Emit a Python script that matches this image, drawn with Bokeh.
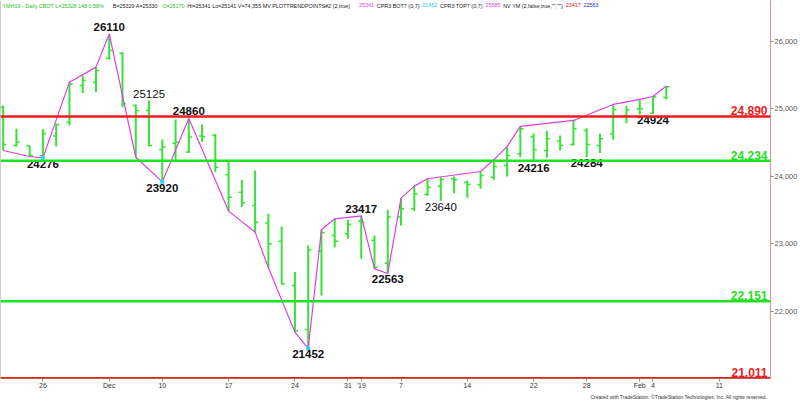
from bokeh.plotting import figure
from bokeh.models import (Range1d, FixedTicker, NumeralTickFormatter, Label, Span,
                          ColumnDataSource, Title)
from bokeh.core.properties import value
from bokeh.embed import file_html
from bokeh.resources import INLINE

# ---------------- data ----------------
dates = ["2018-11-20", "2018-11-21", "2018-11-23", "2018-11-26", "2018-11-27", "2018-11-28",
         "2018-11-29", "2018-11-30", "2018-12-03", "2018-12-04", "2018-12-06", "2018-12-07",
         "2018-12-10", "2018-12-11", "2018-12-12", "2018-12-13", "2018-12-14", "2018-12-17",
         "2018-12-18", "2018-12-19", "2018-12-20", "2018-12-21", "2018-12-24", "2018-12-26",
         "2018-12-27", "2018-12-28", "2018-12-31", "2019-01-02", "2019-01-03", "2019-01-04",
         "2019-01-07", "2019-01-08", "2019-01-09", "2019-01-10", "2019-01-11", "2019-01-14",
         "2019-01-15", "2019-01-16", "2019-01-17", "2019-01-18", "2019-01-22", "2019-01-23",
         "2019-01-24", "2019-01-25", "2019-01-28", "2019-01-29", "2019-01-30", "2019-01-31",
         "2019-02-01", "2019-02-04", "2019-02-05"]
future_dates = ["2019-02-06", "2019-02-07", "2019-02-08", "2019-02-11"]

opens = [25030, 24459, 24454, 24310, 24600, 24805, 25348, 25397, 25753, 25827, 25052, 24978,
         24395, 24494, 24361, 24600, 24607, 24025, 23768, 23570, 23309, 23042, 22385, 21733,
         22894, 23126, 23151, 23340, 23052, 22716, 23398, 23521, 23733, 23857, 23966, 23916,
         23877, 23990, 24163, 24336, 24583, 24385, 24524, 24474, 24681, 24459, 24632, 24904,
         25003, 24938, 25170]
highs = [25052, 24706, 24454, 24701, 24780, 25397, 25496, 25620, 26110, 25842, 25067, 25125,
         24548, 24844, 24860, 24770, 24632, 24227, 23951, 24089, 23447, 23259, 22583, 22978,
         23210, 23373, 23358, 23417, 23126, 23506, 23679, 23857, 23966, 23990, 24000, 23941,
         24074, 24247, 24445, 24741, 24642, 24672, 24607, 24830, 24716, 24632, 25067, 25052,
         25141, 25185, 25341]
lows = [24385, 24445, 24296, 24276, 24445, 24756, 25235, 25250, 25728, 25027, 24285, 24445,
        23920, 24247, 24346, 24509, 24064, 23487, 23546, 23175, 22647, 22400, 21694, 21452,
        22237, 22953, 23077, 22780, 22632, 22563, 23274, 23487, 23709, 23640, 23753, 23684,
        23817, 23951, 24000, 24286, 24216, 24277, 24385, 24459, 24284, 24346, 24543, 24790,
        24919, 24924, 25141]
closes = [24474, 24509, 24311, 24632, 24770, 25373, 25422, 25570, 25867, 25077, 24978, 24459,
          24435, 24509, 24583, 24590, 24138, 23694, 23610, 23323, 23003, 22410, 21709, 22914,
          23166, 23042, 23289, 23320, 22657, 23398, 23521, 23743, 23842, 23956, 23951, 23882,
          24015, 24148, 24311, 24706, 24395, 24558, 24459, 24706, 24474, 24558, 24988, 24988,
          25003, 25180, 25328]

# swing line (PLOTTRENDPOINTS): date + which extreme
trend_dates = ["2018-11-20", "2018-11-23", "2018-11-26", "2018-11-28", "2018-11-30", "2018-12-03",
               "2018-12-06", "2018-12-10", "2018-12-12", "2018-12-17", "2018-12-19", "2018-12-20",
               "2018-12-24", "2018-12-26", "2018-12-27", "2018-12-28", "2019-01-02", "2019-01-03",
               "2019-01-04", "2019-01-07", "2019-01-08", "2019-01-09", "2019-01-15", "2019-01-16",
               "2019-01-17", "2019-01-18", "2019-01-25", "2019-01-30", "2019-02-01", "2019-02-04",
               "2019-02-05"]
trend_side = ["L", "L", "L", "H", "H", "H", "L", "L", "H", "L", "L", "L", "L", "L", "H", "H",
              "H", "L", "L", "H", "H", "H", "H", "H", "H", "H", "H", "H", "H", "H", "H"]

# labelled pivots
pivot_dates = ["2018-11-26", "2018-12-03", "2018-12-07", "2018-12-10", "2018-12-12", "2018-12-26",
               "2019-01-02", "2019-01-04", "2019-01-10", "2019-01-22", "2019-01-28", "2019-02-04"]
pivot_side = ["L", "H", "H", "L", "H", "L", "H", "L", "L", "L", "L", "L"]
pivot_bold = [True, True, False, True, True, True, True, True, False, True, True, True]
dot_dates = ["2018-11-26", "2018-12-10", "2018-12-26"]

levels = [24890, 24234, 22151, 21011]
level_colors = ["#ee1c1c", "#22e022", "#22e022", "#ee1c1c"]

y_ticks = [22000, 23000, 24000, 25000, 26000]
tick_dates = ["2018-11-26", "2018-12-03", "2018-12-10", "2018-12-17", "2018-12-24", "2018-12-31",
              "2019-01-02", "2019-01-07", "2019-01-14", "2019-01-22", "2019-01-28", "2019-02-01",
              "2019-02-04", "2019-02-11"]
tick_labels = ["26", "Dec", "10", "17", "24", "31", "'19", "7", "14", "22", "28", "Feb", "4", "11"]

ask_price = 25330
header = [("YMH19 - Daily  CBOT  L=25328  148  0.58%", "#22c422"),
          ("B=25329  A=25330", "#222222"),
          ("O=25170", "#22c422"),
          ("Hi=25341  Lo=25141  V=74,355  MV  PLOTTRENDPOINTS#2 (2,true)", "#222222"),
          ("25341", "#e040e0"),
          ("CPR3 BOT7 (0,7)", "#222222"),
          ("21452", "#22ccee"),
          ("CPR3 TOP7 (0,7)", "#222222"),
          ("25585", "#e040e0"),
          ('NV YM (2,false,true,"","")', "#222222"),
          ("23417", "#e02020"),
          ("22563", "#2233ee")]

# ---------------- figure ----------------
calendar = dates + future_dates
pos = {d: i for i, d in enumerate(calendar)}
X0, X1 = -0.2, 57.86
Y0, Y1 = 21007, 26607

p = figure(width=800, height=402, output_backend="svg", toolbar_location=None,
           x_range=Range1d(X0, X1), y_range=Range1d(Y0, Y1), y_axis_location="right",
           min_border_left=0, min_border_top=0, min_border_right=0, min_border_bottom=24,
           background_fill_color="white", border_fill_color="white")
p.xgrid.visible = False
p.ygrid.visible = False
p.outline_line_color = None

FONT = "Liberation Sans"

# axes
p.yaxis.ticker = FixedTicker(ticks=y_ticks)
p.yaxis.formatter = NumeralTickFormatter(format="0,0")
p.yaxis.major_label_text_font = FONT
p.yaxis.major_label_text_font_size = "7.5px"
p.yaxis.major_label_text_color = "#555555"
p.yaxis.axis_line_color = "#e09090"
p.yaxis.major_tick_line_color = "#888888"
p.yaxis.major_tick_in = 0
p.yaxis.major_tick_out = 3
p.yaxis.minor_tick_line_color = None
p.yaxis.major_label_standoff = 1

p.xaxis.ticker = FixedTicker(ticks=[pos[d] for d in tick_dates])
p.xaxis.major_label_overrides = {pos[d]: lab for d, lab in zip(tick_dates, tick_labels)}
p.xaxis.major_label_text_font = FONT
p.xaxis.major_label_text_font_size = "7px"
p.xaxis.major_label_text_color = "#333333"
p.xaxis.axis_line_color = "#999999"
p.xaxis.major_tick_line_color = "#999999"
p.xaxis.major_tick_in = 0
p.xaxis.major_tick_out = 3
p.xaxis.minor_tick_line_color = None
p.xaxis.major_label_standoff = 0

p.add_layout(Title(text="Created with TradeStation. \u00a9TradeStation Technologies, Inc. All rights reserved.",
                   align="right", text_font_size="5px", text_font_style="normal", text_font=FONT,
                   text_color="#333333", standoff=0, offset=3), "below")

# left border
p.add_layout(Span(location=X0, dimension="height", line_color="#a0a0a0", line_width=1))

# support / resistance levels
for lv, col in zip(levels, level_colors):
    p.add_layout(Span(location=lv, dimension="width", line_color=col, line_width=2.5))
p.text(x=[X1] * len(levels), y=levels, text=[f"{v:,}" for v in levels], text_color=level_colors,
       text_align="right", text_baseline="bottom", x_offset=-3, y_offset=-1,
       text_font=value(FONT), text_font_size="12px", text_font_style="bold")

# OHLC bars
xs = [pos[d] for d in dates]
bar_col = "#36e336"
src = ColumnDataSource(dict(x=xs, xl=[x - 0.24 for x in xs], xr=[x + 0.24 for x in xs],
                            o=opens, h=highs, l=lows, c=closes))
p.segment("x", "h", "x", "l", source=src, line_color=bar_col, line_width=2)
p.segment("xl", "o", "x", "o", source=src, line_color=bar_col, line_width=1.5)
p.segment("x", "c", "xr", "c", source=src, line_color=bar_col, line_width=1.5)

# swing line
ix = {d: i for i, d in enumerate(dates)}
tx = [pos[d] for d in trend_dates]
ty = [highs[ix[d]] if s == "H" else lows[ix[d]] for d, s in zip(trend_dates, trend_side)]
p.line(tx, ty, line_color="#dd3fdd", line_width=1.2)

# cyan pivot dots
p.scatter([pos[d] for d in dot_dates], [lows[ix[d]] for d in dot_dates], marker="square",
          size=4, fill_color="#30d0ff", line_color=None)

# pivot labels
for d, s, b in zip(pivot_dates, pivot_side, pivot_bold):
    v = highs[ix[d]] if s == "H" else lows[ix[d]]
    p.text(x=[pos[d]], y=[v], text=[str(v)], text_align="center",
           text_baseline="bottom" if s == "H" else "top",
           y_offset=-3 if s == "H" else 2, text_color="#111111",
           text_font=value(FONT), text_font_size="11.5px",
           text_font_style="bold" if b else "normal")

# last price tag on the axis
p.add_layout(Label(x=X1, y=ask_price, text=f"{ask_price:,}", x_offset=2,
                   text_baseline="middle", text_align="left", text_font=FONT,
                   text_font_size="7px", text_color="#e8ffe8", level="overlay",
                   background_fill_color="#22cc22", background_fill_alpha=1.0))

# header text, laid out sequentially with Arial/Liberation Sans advance widths
AW = {" ": 278, "\"": 355, "#": 556, "%": 889, "(": 333, ")": 333, ",": 278, "-": 333, ".": 278,
      "=": 584, "A": 667, "B": 667, "C": 722, "D": 722, "E": 667, "H": 722, "I": 278, "L": 556,
      "M": 833, "N": 722, "O": 778, "P": 667, "R": 722, "S": 667, "T": 611, "V": 667, "Y": 667,
      "a": 556, "e": 556, "f": 278, "i": 222, "l": 222, "o": 556, "r": 333, "s": 500, "t": 278,
      "u": 556, "y": 500}
def em(s):
    return sum(AW.get(ch, 556) for ch in s) / 1000.0
gap = 0.5
total_em = sum(em(t) for t, _ in header) + gap * (len(header) - 1)
hfs = 596.0 / total_em
hx = 2.0
for txt, col in header:
    p.add_layout(Label(x=hx, y=Y1, x_units="screen", y_units="data", text=txt,
                       text_color=col, text_font=FONT, text_font_size=f"{hfs:.2f}px",
                       text_baseline="top", text_align="left", y_offset=-2))
    hx += (em(txt) + gap) * hfs

open("out.html", "w").write(file_html(p, INLINE))
